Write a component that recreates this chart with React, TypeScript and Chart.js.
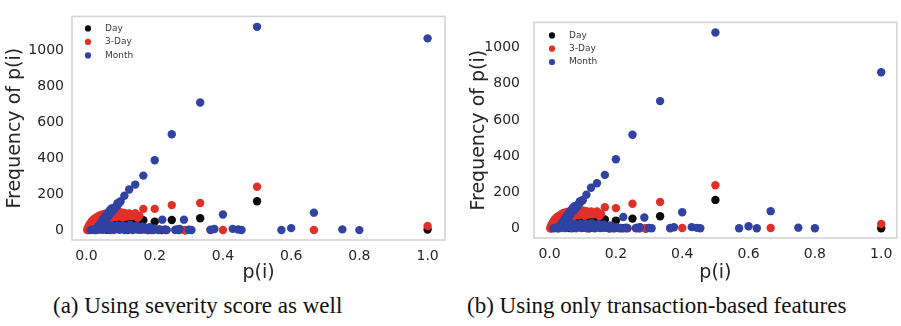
import React, { useEffect, useRef } from "react";
import { Chart, registerables } from "chart.js";

Chart.register(...registerables);

type P = [number, number];

const xTickValues = [0, 0.2, 0.4, 0.6, 0.8, 1.0];
const yTickValues = [0, 200, 400, 600, 800, 1000];
const seriesLabels = ["Day", "3-Day", "Month"];
const seriesColors = ["#0a0a0a", "#e1302a", "#3042a2"];
const captions = ["(a) Using severity score as well", "(b) Using only transaction-based features"];
const xLabel = "p(i)";
const yLabel = "Frequency of p(i)";

// dense cluster near the origin (looks the same in both panels)
const clusterDay: P[] = [
  [0.004, 3], [0.008, 10], [0.012, 18], [0.016, 24], [0.02, 30], [0.024, 35], [0.028, 40],
  [0.032, 44], [0.036, 47], [0.04, 50], [0.045, 48], [0.05, 52], [0.055, 45], [0.06, 53],
  [0.065, 49], [0.07, 55], [0.075, 47], [0.08, 54], [0.085, 50], [0.09, 56], [0.095, 48],
  [0.1, 55], [0.105, 52], [0.11, 57], [0.115, 50], [0.12, 54], [0.125, 47], [0.13, 52],
  [0.14, 44], [0.15, 38], [0.02, 6], [0.04, 14], [0.06, 4], [0.08, 20], [0.1, 8], [0.12, 3],
  [0.14, 12], [0.16, 5], [0.18, 2], [0.22, 3], [0.27, 2], [0.29, 1],
];

const clusterThreeDay: P[] = [
  [0.002, 3], [0.004, 12], [0.006, 22], [0.008, 6], [0.009, 32], [0.011, 16], [0.012, 42],
  [0.014, 4], [0.015, 28], [0.016, 52], [0.018, 12], [0.019, 38], [0.02, 60], [0.022, 22],
  [0.023, 48], [0.024, 66], [0.026, 6], [0.027, 34], [0.028, 56], [0.029, 72], [0.031, 18],
  [0.032, 44], [0.033, 64], [0.034, 78], [0.036, 28], [0.037, 52], [0.038, 70], [0.039, 84],
  [0.041, 10], [0.042, 38], [0.043, 60], [0.044, 76], [0.045, 88], [0.048, 22], [0.049, 48],
  [0.05, 68], [0.051, 82], [0.052, 92], [0.055, 34], [0.056, 58], [0.057, 76], [0.058, 90],
  [0.06, 96], [0.063, 64], [0.065, 82], [0.067, 94], [0.07, 98], [0.074, 70], [0.076, 86],
  [0.079, 97], [0.083, 100], [0.087, 74], [0.09, 88], [0.093, 99], [0.1, 101], [0.105, 72],
  [0.108, 86], [0.111, 97], [0.118, 78], [0.121, 90], [0.125, 95], [0.133, 80], [0.138, 88],
  [0.143, 95], [0.15, 70], [0.155, 82], [0.04, 4], [0.06, 10], [0.08, 3], [0.1, 14],
  [0.12, 6], [0.14, 18], [0.16, 4], [0.18, 10], [0.19, 2], [0.21, 5], [0.23, 3], [0.26, 2],
  [0.275, 4], [0.29, 2], [0.3636, 2],
];

const clusterMonth: P[] = [
  [0.028, 3], [0.031, 9], [0.034, 15], [0.037, 22], [0.04, 28], [0.043, 35], [0.046, 42],
  [0.049, 48], [0.052, 55], [0.055, 62], [0.058, 68], [0.061, 75], [0.064, 82], [0.067, 88],
  [0.07, 95], [0.073, 102], [0.076, 108], [0.079, 115], [0.082, 122], [0.085, 128],
  [0.088, 135], [0.091, 142], [0.094, 150], [0.097, 156],
  [0.03, 12], [0.033, 20], [0.036, 27], [0.039, 34], [0.042, 42], [0.045, 50], [0.048, 58],
  [0.051, 66], [0.054, 74], [0.057, 80], [0.06, 88], [0.063, 96], [0.066, 104], [0.069, 112],
  [0.072, 118], [0.075, 124],
  [0.012, 2], [0.018, 6], [0.024, 3], [0.036, 8], [0.042, 18], [0.048, 4], [0.054, 24],
  [0.06, 10], [0.064, 30], [0.068, 3], [0.072, 16], [0.076, 26], [0.08, 6], [0.084, 20],
  [0.088, 12], [0.092, 28], [0.096, 4], [0.1, 18], [0.104, 10], [0.108, 26], [0.112, 2],
  [0.116, 14], [0.12, 22], [0.124, 6], [0.128, 30], [0.132, 12], [0.136, 3], [0.14, 20],
  [0.144, 8], [0.148, 25], [0.152, 4], [0.156, 15], [0.16, 10], [0.164, 22], [0.17, 5],
  [0.175, 14], [0.18, 3], [0.185, 18], [0.19, 7], [0.196, 2], [0.2, 10],
];

// panel (a)
const peaksDayA: P[] = [[0.1667, 57], [0.2, 49], [0.25, 58], [0.3333, 68], [0.5, 162], [1.0, 5]];
const peaksThreeDayA: P[] = [
  [0.1429, 95], [0.1667, 120], [0.2, 120], [0.25, 141], [0.3333, 153], [0.4, 3], [0.5, 243],
  [0.6667, 3], [1.0, 25],
];
const peaksMonthA: P[] = [
  [0.0909, 152], [0.1, 162], [0.1111, 193], [0.125, 228], [0.1429, 255], [0.1667, 305],
  [0.2, 390], [0.2222, 60], [0.25, 535], [0.2857, 60], [0.3333, 711], [0.4, 89], [0.5, 1132],
  [0.6667, 99], [1.0, 1068],
];
const lowMonthA: P[] = [
  [0.2105, 3], [0.2143, 5], [0.2308, 6], [0.2353, 3], [0.2609, 4], [0.2667, 6], [0.2727, 8],
  [0.3, 4], [0.3077, 3], [0.3636, 4], [0.375, 8], [0.4286, 9], [0.4444, 5], [0.4545, 3],
  [0.5714, 3], [0.6, 13], [0.75, 6], [0.8, 2],
];

// panel (b)
const peaksDayB: P[] = [[0.1667, 51], [0.2, 45], [0.25, 56], [0.3333, 69], [0.5, 159], [1.0, 3]];
const peaksThreeDayB: P[] = [
  [0.1429, 92], [0.1667, 119], [0.2, 114], [0.25, 138], [0.3333, 148], [0.4, 4], [0.5, 240],
  [0.6667, 4], [1.0, 26],
];
const peaksMonthB: P[] = [
  [0.0909, 150], [0.1, 157], [0.1111, 188], [0.125, 226], [0.1429, 251], [0.1667, 297],
  [0.2, 383], [0.2222, 65], [0.25, 518], [0.2857, 62], [0.3333, 704], [0.4, 91], [0.5, 1082],
  [0.6667, 97], [1.0, 863],
];
const lowMonthB: P[] = [
  [0.2105, 3], [0.2143, 5], [0.2308, 6], [0.2353, 3], [0.2609, 4], [0.2667, 6], [0.2727, 8],
  [0.3, 4], [0.3077, 3], [0.3636, 4], [0.375, 8], [0.4286, 9], [0.4444, 5], [0.4545, 3],
  [0.5714, 3], [0.6, 14], [0.625, 3], [0.75, 6], [0.8, 3],
];

const FONT = '"DejaVu Sans", sans-serif';
const TEXT = "#262626";

const boxPlugin = {
  id: "boxBorder",
  afterDatasetsDraw(chart: any) {
    const { ctx, chartArea } = chart;
    ctx.save();
    ctx.strokeStyle = "#d4d4d4";
    ctx.lineWidth = 1.6;
    ctx.strokeRect(chartArea.left, chartArea.top, chartArea.right - chartArea.left, chartArea.bottom - chartArea.top);
    ctx.restore();
  },
};

const dotLegendPlugin = {
  id: "dotLegend",
  afterDraw(chart: any, _args: any, opts: any) {
    const { ctx, chartArea } = chart;
    ctx.save();
    ctx.font = `${opts.size}px ${FONT}`;
    ctx.textBaseline = "middle";
    ctx.textAlign = "left";
    chart.data.datasets.forEach((ds: any, i: number) => {
      const x = chartArea.left + opts.left;
      const y = chartArea.top + opts.top + i * opts.gap;
      ctx.fillStyle = ds.backgroundColor;
      ctx.beginPath();
      ctx.arc(x, y, opts.r, 0, Math.PI * 2);
      ctx.fill();
      ctx.fillStyle = "#3a3a3a";
      ctx.fillText(ds.label, x + opts.textGap, y);
    });
    ctx.restore();
  },
};

type PanelProps = {
  left: number;
  width: number;
  height: number;
  series: P[][];
  xMin: number;
  xMax: number;
  yMin: number;
  yMax: number;
  yAxisWidth: number;
  xAxisHeight: number;
  padTop: number;
  padRight: number;
  yTickPad: number;
  yTitlePad: number;
  legend: { left: number; top: number; gap: number };
};

function Panel(p: PanelProps) {
  const ref = useRef<HTMLCanvasElement | null>(null);
  useEffect(() => {
    if (!ref.current) return;
    const chart = new Chart(ref.current, {
      type: "scatter",
      data: {
        datasets: p.series.map((pts, i) => ({
          label: seriesLabels[i],
          data: pts.map(([x, y]) => ({ x, y })),
          backgroundColor: seriesColors[i],
          borderWidth: 0,
          pointRadius: 4.2,
          pointHoverRadius: 4.2,
          order: 2 - i,
        })),
      },
      options: {
        responsive: false,
        animation: false,
        events: [],
        layout: { padding: { left: 0, top: p.padTop, right: p.padRight, bottom: 0 } },
        plugins: {
          legend: { display: false },
          tooltip: { enabled: false },
          dotLegend: { left: p.legend.left, top: p.legend.top, gap: p.legend.gap, r: 3.1, textGap: 17, size: 9 },
        } as any,
        scales: {
          x: {
            type: "linear",
            min: p.xMin,
            max: p.xMax,
            grid: { display: false, drawTicks: false },
            border: { display: false },
            afterBuildTicks: (axis: any) => {
              axis.ticks = xTickValues.map((v) => ({ value: v }));
            },
            afterFit: (axis: any) => {
              axis.height = p.xAxisHeight;
            },
            ticks: {
              font: { family: FONT, size: 14 },
              color: TEXT,
              padding: 8,
              maxRotation: 0,
              callback: (v: any) => Number(v).toFixed(1),
            },
            title: {
              display: true,
              text: xLabel,
              font: { family: FONT, size: 19 },
              color: TEXT,
              padding: { top: 0, bottom: 1 },
            },
          },
          y: {
            type: "linear",
            min: p.yMin,
            max: p.yMax,
            grid: { display: false, drawTicks: false },
            border: { display: false },
            afterBuildTicks: (axis: any) => {
              axis.ticks = yTickValues.map((v) => ({ value: v }));
            },
            afterFit: (axis: any) => {
              axis.width = p.yAxisWidth;
            },
            ticks: {
              font: { family: FONT, size: 14 },
              color: TEXT,
              padding: p.yTickPad,
              callback: (v: any) => String(v),
            },
            title: {
              display: true,
              text: yLabel,
              font: { family: FONT, size: 19 },
              color: TEXT,
              padding: { top: p.yTitlePad, bottom: 0 },
            },
          },
        },
      },
      plugins: [boxPlugin, dotLegendPlugin],
    });
    return () => chart.destroy();
  }, []);
  return (
    <canvas
      ref={ref}
      width={p.width}
      height={p.height}
      style={{ position: "absolute", left: p.left, top: 0, width: p.width, height: p.height, display: "block" }}
    />
  );
}

export default function App() {
  const captionStyle: React.CSSProperties = {
    position: "absolute",
    top: 293,
    fontFamily: '"Liberation Serif", "Times New Roman", serif',
    fontSize: 23,
    lineHeight: "26px",
    whiteSpace: "nowrap",
    color: "#111",
  };
  return (
    <div style={{ position: "absolute", left: 0, top: 0, width: 901, height: 326, overflow: "hidden", background: "#fff" }}>
      <Panel
        left={0}
        width={450}
        height={285}
        series={[
          [...clusterDay, ...peaksDayA],
          [...clusterThreeDay, ...peaksThreeDayA],
          [...clusterMonth, ...peaksMonthA, ...lowMonthA],
        ]}
        xMin={-0.0425}
        xMax={1.051}
        yMin={-53}
        yMax={1190}
        yAxisWidth={72}
        xAxisHeight={45}
        padTop={5}
        padRight={5}
        yTickPad={8}
        yTitlePad={4}
        legend={{ left: 16, top: 12, gap: 13.5 }}
      />
      <Panel
        left={450}
        width={451}
        height={285}
        series={[
          [...clusterDay, ...peaksDayB],
          [...clusterThreeDay, ...peaksThreeDayB],
          [...clusterMonth, ...peaksMonthB, ...lowMonthB],
        ]}
        xMin={-0.047}
        xMax={1.047}
        yMin={-51}
        yMax={1138}
        yAxisWidth={84}
        xAxisHeight={47}
        padTop={6}
        padRight={1}
        yTickPad={14}
        yTitlePad={18}
        legend={{ left: 18, top: 13, gap: 13.3 }}
      />
      <div style={{ ...captionStyle, left: 53 }}>{captions[0]}</div>
      <div style={{ ...captionStyle, left: 467 }}>{captions[1]}</div>
    </div>
  );
}
